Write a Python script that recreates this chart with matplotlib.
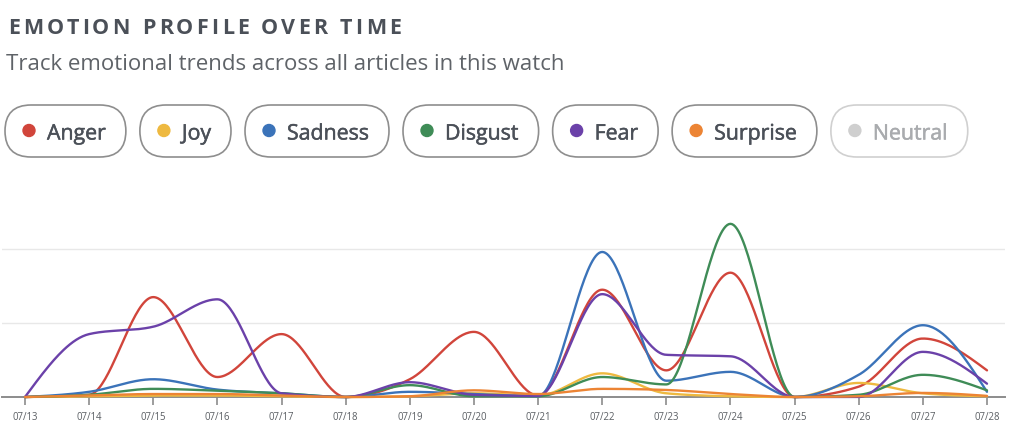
import os
import numpy as np
import matplotlib
matplotlib.use('Agg')
import matplotlib.pyplot as plt
from matplotlib.patches import FancyBboxPatch, Circle
from matplotlib import font_manager as fm
import matplotlib.patheffects as pe

# ---------------- data ----------------
dates = ['07/13', '07/14', '07/15', '07/16', '07/17', '07/18', '07/19', '07/20',
         '07/21', '07/22', '07/23', '07/24', '07/25', '07/26', '07/27', '07/28']
anger    = [0, 0.3, 13.5, 2.7, 8.5, 0, 2.4, 8.8, 0.2, 14.5, 3.6, 16.8, 0, 1.4, 7.9, 3.6]
joy      = [0, 0.1, 0.2, 0.2, 0.1, 0, 0.1, 0.5, 0.2, 3.2, 0.5, 0.1, 0, 1.9, 0.5, 0.1]
sadness  = [0, 0.7, 2.4, 1.0, 0.5, 0, 0.7, 0.4, 0.1, 19.6, 2.2, 3.4, 0, 3.0, 9.7, 0.7]
disgust  = [0, 0.3, 1.1, 0.85, 0.5, 0, 1.6, 0.1, 0.1, 2.7, 1.7, 23.4, 0, 0.3, 3.0, 0.9]
fear     = [0, 8.5, 9.5, 13.2, 0.5, 0, 2.0, 0.3, 0.15, 13.9, 5.7, 5.5, 0, 0.0, 6.1, 1.8]
surprise = [0, 0.2, 0.4, 0.4, 0.2, 0, 0.1, 0.9, 0.4, 1.1, 0.95, 0.4, 0, 0.1, 0.55, 0.15]

series_names = ['Anger', 'Joy', 'Sadness', 'Disgust', 'Fear', 'Surprise']
series_vals = [anger, joy, sadness, disgust, fear, surprise]
legend_names = ['Anger', 'Joy', 'Sadness', 'Disgust', 'Fear', 'Surprise', 'Neutral']
colors = {'Anger': '#d1453b', 'Joy': '#eeb940', 'Sadness': '#3b73b9',
          'Disgust': '#3f8c57', 'Fear': '#6b41a9', 'Surprise': '#ec8434',
          'Neutral': '#cfcfcf'}

FONT = 'Open Sans'
W, H = 1024, 444


def has_real_bold(family):
    try:
        path = fm.findfont(fm.FontProperties(family=family, weight='bold'),
                           fallback_to_default=False)
    except Exception:
        return False
    return 'bold' in os.path.basename(path).lower()


TFONT = FONT
title_effects = []
tsize = 15.5
if not has_real_bold(FONT):
    tsize = 16.6
    title_effects = [pe.withStroke(linewidth=1.5, foreground='#4b5058')]


def monotone_curve(y, n=40):
    """d3 curveMonotoneX equivalent, unit spacing."""
    y = np.asarray(y, float)
    m = len(y)
    x = np.arange(m, dtype=float)
    t = np.zeros(m)
    for i in range(1, m - 1):
        s0 = y[i] - y[i - 1]
        s1 = y[i + 1] - y[i]
        p = (s0 + s1) / 2.0
        t[i] = (np.sign(s0) + np.sign(s1)) * min(abs(s0), abs(s1), 0.5 * abs(p))
    t[0] = (3 * (y[1] - y[0]) - t[1]) / 2.0
    t[-1] = (3 * (y[-1] - y[-2]) - t[-2]) / 2.0
    xs, ys = [], []
    for i in range(m - 1):
        u = np.linspace(0, 1, n, endpoint=(i == m - 2))
        h00 = 2 * u**3 - 3 * u**2 + 1
        h10 = u**3 - 2 * u**2 + u
        h01 = -2 * u**3 + 3 * u**2
        h11 = u**3 - u**2
        xs.append(x[i] + u)
        ys.append(h00 * y[i] + h10 * t[i] + h01 * y[i + 1] + h11 * t[i + 1])
    return np.concatenate(xs), np.concatenate(ys)


fig = plt.figure(figsize=(W / 100, H / 100), dpi=100)
fig.patch.set_facecolor('white')
renderer = fig.canvas.get_renderer()

# ---------------- plot axes ----------------
px_per_unit = 7.4
ymax = 29.5
base_px = 397
left_px, right_px = 2, 1005
x0_px, step_px = 25, (987 - 25) / 15
ax = fig.add_axes([left_px / W, (H - base_px) / H, (right_px - left_px) / W,
                   ymax * px_per_unit / H])
xmin = (left_px - x0_px) / step_px
xmax = (right_px - x0_px) / step_px
ax.set_xlim(xmin, xmax)
ax.set_ylim(0, ymax)
ax.set_axisbelow(True)
for s in ['top', 'right', 'left']:
    ax.spines[s].set_visible(False)
ax.spines['bottom'].set_color('#8c8c8c')
ax.spines['bottom'].set_linewidth(1.4)
ax.set_yticks([10, 20])
ax.yaxis.grid(True, color='#e8e8e8', linewidth=1.0)
ax.tick_params(axis='y', left=False, labelleft=False)
ax.set_xticks(range(len(dates)))
ax.set_xticklabels(dates, fontfamily=FONT, fontsize=6.9, color='#5a5e63')
ax.tick_params(axis='x', direction='out', length=6, width=1.2, color='#8c8c8c', pad=4.5)

for name, vals in zip(series_names, series_vals):
    xs, ys = monotone_curve(vals)
    ax.plot(xs, ys, color=colors[name], linewidth=1.7, solid_capstyle='round',
            clip_on=False, zorder=3)

# ---------------- overlay for header & legend ----------------
ov = fig.add_axes([0, 0, 1, 1], zorder=5)
ov.set_xlim(0, W)
ov.set_ylim(H, 0)
ov.axis('off')
ov.patch.set_alpha(0)


def width_of(txt):
    return txt.get_window_extent(renderer).width


# title with letter spacing
title = 'EMOTION PROFILE OVER TIME'
probe = ov.text(0, 0, title, fontfamily=TFONT, fontweight='bold', fontsize=tsize)
natural = width_of(probe)
probe.remove()
spacing = (393 - natural) / (len(title) - 1)
for i, ch in enumerate(title):
    if i == 0:
        off = 0
    else:
        p = ov.text(0, 0, title[:i], fontfamily=TFONT, fontweight='bold', fontsize=tsize)
        off = width_of(p)
        p.remove()
    ov.text(8 + off + i * spacing, 34.5, ch, fontfamily=TFONT, fontweight='bold',
            fontsize=tsize, color='#4b5058', va='baseline', ha='left',
            path_effects=title_effects)

# subtitle fitted to width
sub = 'Track emotional trends across all articles in this watch'
st = ov.text(6, 70, sub, fontfamily=FONT, fontsize=16, color='#5f6368',
             va='baseline', ha='left')
st.set_fontsize(16 * 559 / width_of(st))

# legend pills
probe = ov.text(0, 0, 'Surprise', fontfamily=FONT, fontsize=16)
lsize = 16 * 83 / width_of(probe)
probe.remove()
x = 5
top, bot = 105, 157
for name in legend_names:
    neutral = name == 'Neutral'
    tcol = '#a9abae' if neutral else '#4b5058'
    t = ov.text(x + 42, (top + bot) / 2 + 0.5, name, fontfamily=FONT, fontsize=lsize,
                color=tcol, va='center_baseline', ha='left',
                path_effects=[pe.withStroke(linewidth=0.35, foreground=tcol)])
    tw = width_of(t)
    pw = 42 + tw + 20
    ov.add_patch(FancyBboxPatch((x, top), pw, bot - top,
                                boxstyle='round,pad=0,rounding_size=26',
                                facecolor='white',
                                edgecolor='#d0d0d0' if neutral else '#8e8e8e',
                                linewidth=1.2, zorder=1))
    ov.add_patch(Circle((x + 24, (top + bot) / 2 - 0.5), 6, color=colors[name], zorder=2))
    t.set_zorder(3)
    x += pw + 14

fig.savefig('out.png', dpi=100, facecolor='white')
